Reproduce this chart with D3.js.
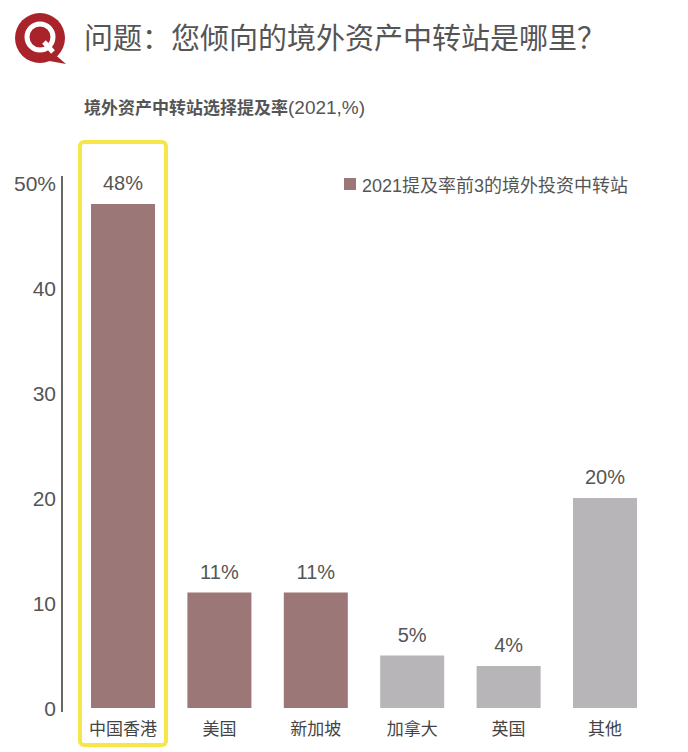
<!DOCTYPE html>
<html lang="zh">
<head>
<meta charset="UTF-8">
<style>
*{margin:0;padding:0;}
body{background:#fff;font-family:"Liberation Sans","Noto Sans CJK SC",sans-serif;}
</style>
</head>
<body>
<div id="container"></div>
<script src="https://cdn.jsdelivr.net/npm/d3@7"></script>
<script>
var categories = ['中国香港','美国','新加坡','加拿大','英国','其他'],
	values = [48, 11, 11, 5, 4, 20],
	top3 = [true, true, true, false, false, false],
	yTicks = [0, 10, 20, 30, 40, 50]

var width = 688, height = 752
var svg = d3.select('#container').append('svg').attr('width', width).attr('height', height)

// logo
var logo = svg.append('g')
logo.append('path').attr('d', 'M52,52 L66,64 L44,60 Z').attr('fill', '#a8232a')
logo.append('circle').attr('cx', 40).attr('cy', 38).attr('r', 25).attr('fill', '#a8232a')
logo.append('circle').attr('cx', 40).attr('cy', 37).attr('r', 13).attr('fill', 'none').attr('stroke', '#fff').attr('stroke-width', 5)
logo.append('line').attr('x1', 44).attr('y1', 42).attr('x2', 53).attr('y2', 52).attr('stroke', '#fff').attr('stroke-width', 5)

svg.append('text').attr('x', 84).attr('y', 49).attr('font-size', 29).attr('fill', '#555')
	.attr('font-family', 'Noto Sans CJK SC')
	.text('问题：您倾向的境外资产中转站是哪里？')
var sub = svg.append('text').attr('x', 84).attr('y', 114).attr('font-size', 17).attr('fill', '#555')
sub.append('tspan').attr('font-weight', 'bold').attr('font-family', 'Noto Sans CJK SC').text('境外资产中转站选择提及率')
sub.append('tspan').attr('font-size', 19).text('(2021,%)')

var y = d3.scaleLinear().domain([0, 50]).range([708, 183])
var x = d3.scaleBand().domain(categories).range([91, 637]).paddingInner(0.336).paddingOuter(0)

svg.append('line').attr('x1', 62).attr('x2', 62).attr('y1', 176).attr('y2', 712).attr('stroke', '#333').attr('stroke-width', 1.5)
svg.selectAll('.tick').data(yTicks).enter().append('text')
	.attr('x', 56).attr('y', function (d) { return y(d) + 8 })
	.attr('text-anchor', 'end').attr('font-size', 21).attr('fill', '#555')
	.text(function (d) { return d === 50 ? d + '%' : d })

var bar = svg.selectAll('.bar').data(values).enter().append('g')
	.attr('transform', function (d, i) { return 'translate(' + x(categories[i]) + ',0)' })
bar.append('rect')
	.attr('y', function (d) { return y(d) })
	.attr('width', x.bandwidth())
	.attr('height', function (d) { return y(0) - y(d) })
	.attr('fill', function (d, i) { return top3[i] ? '#9b7778' : '#b7b5b7' })
bar.append('text')
	.attr('x', x.bandwidth() / 2).attr('y', function (d) { return y(d) - 14 })
	.attr('text-anchor', 'middle').attr('font-size', 20).attr('fill', '#555')
	.text(function (d) { return d + '%' })
bar.append('text')
	.attr('x', x.bandwidth() / 2).attr('y', 735)
	.attr('text-anchor', 'middle').attr('font-size', 17).attr('fill', '#444')
	.attr('font-family', 'Noto Sans CJK SC')
	.text(function (d, i) { return categories[i] })

// highlight box
var x0 = x(categories[0])
svg.append('rect').attr('x', x0 - 11).attr('y', 142).attr('width', x.bandwidth() + 22).attr('height', 603)
	.attr('rx', 4).attr('fill', 'none').attr('stroke', '#f7e64a').attr('stroke-width', 4)

// legend
svg.append('rect').attr('x', 344).attr('y', 178).attr('width', 12).attr('height', 12).attr('fill', '#9b7778')
svg.append('text').attr('x', 362).attr('y', 192).attr('font-size', 18).attr('fill', '#555')
	.text('2021提及率前3的境外投资中转站')
</script>
</body>
</html>
